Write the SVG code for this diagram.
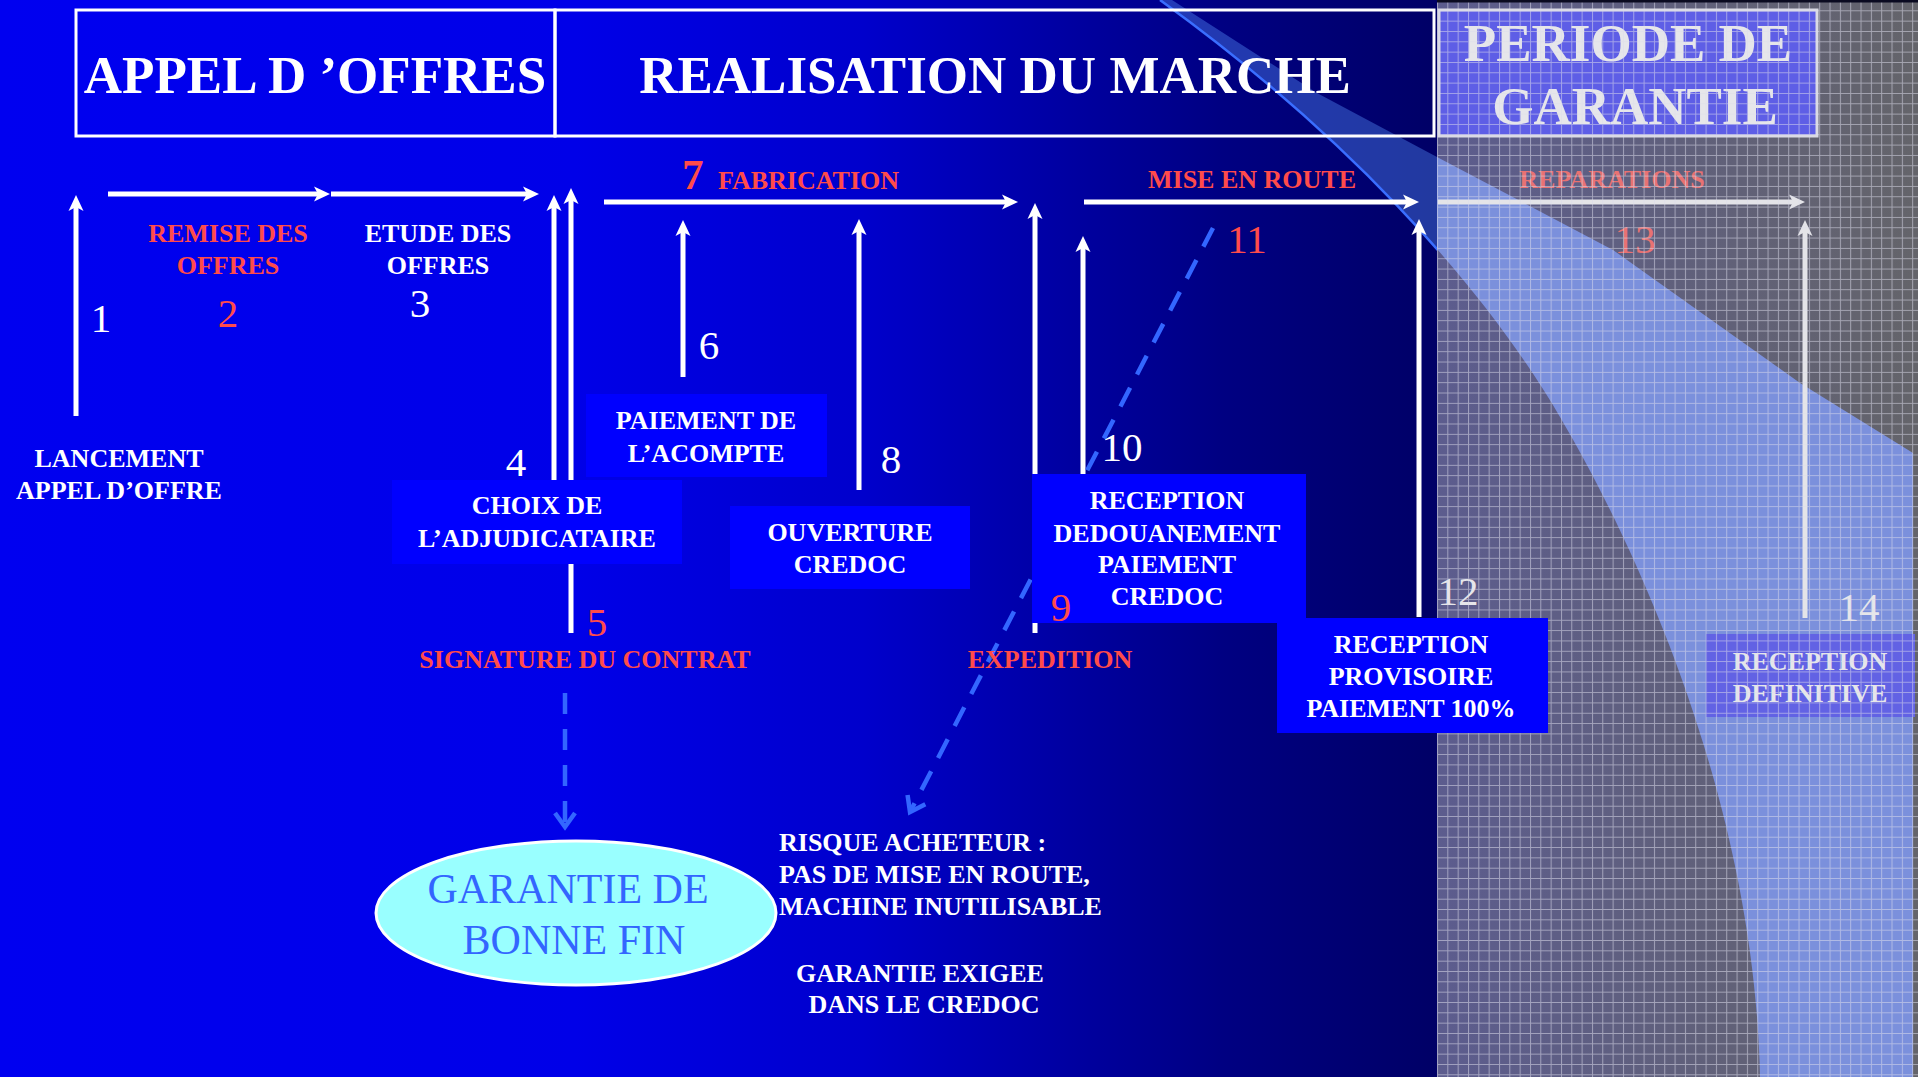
<svg xmlns="http://www.w3.org/2000/svg" width="1918" height="1077" viewBox="0 0 1918 1077">
  <defs>
    <style>
      text { font-family: "Liberation Serif", "Times New Roman", serif; }
      .hd { font-size: 53px; font-weight: bold; fill: #ffffff; text-anchor: middle; }
      .lb { font-size: 26px; font-weight: bold; fill: #ffffff; text-anchor: middle; }
      .lbl { font-size: 26px; font-weight: bold; fill: #ffffff; }
      .num { font-size: 41px; fill: #ffffff; text-anchor: middle; }
      .red { fill: #ff4b4b; }
      .faint { fill: #e6e6ea; }
      .faintred { fill: #e87272; }
      .box { fill: #0000ff; }
      .frame { fill: none; stroke: #ffffff; stroke-width: 3; }
      .arrow { fill: none; stroke: #ffffff; stroke-width: 5; marker-end: url(#head); }
      .arrow-g { fill: none; stroke: #e4e4e8; stroke-width: 5; marker-end: url(#head-g); }
      .dash { fill: none; stroke: #3366ff; stroke-width: 4.5; stroke-dasharray: 21 15; marker-end: url(#chev); }
    </style>
    <linearGradient id="bgGrad" gradientUnits="userSpaceOnUse" x1="0" y1="0" x2="1438" y2="0">
      <stop offset="0" stop-color="#0000f0"/>
      <stop offset="0.4" stop-color="#0000e8"/>
      <stop offset="0.6" stop-color="#0000cc"/>
      <stop offset="0.72" stop-color="#0000a8"/>
      <stop offset="0.85" stop-color="#000082"/>
      <stop offset="1" stop-color="#000066"/>
    </linearGradient>
    <linearGradient id="greyGrad" gradientUnits="userSpaceOnUse" x1="1437" y1="0" x2="1918" y2="0">
      <stop offset="0" stop-color="#5c5c8e"/>
      <stop offset="1" stop-color="#64646a"/>
    </linearGradient>
    <pattern id="grid" patternUnits="userSpaceOnUse" x="1437" y="0" width="10.33" height="10.33">
      <path d="M0 0.5H10.33M0.5 0V10.33" stroke="#dcdcea" stroke-opacity="0.55" stroke-width="1" fill="none"/>
    </pattern>
    <clipPath id="blueSide"><rect x="0" y="0" width="1437" height="1077"/></clipPath>
    <clipPath id="greySide"><rect x="1437" y="0" width="481" height="1077"/></clipPath>
    <marker id="head" markerUnits="userSpaceOnUse" orient="auto" refX="0" refY="0" markerWidth="20" markerHeight="20" overflow="visible">
      <path d="M12 0L-4 -7.5L0 0L-4 7.5Z" fill="#ffffff"/>
    </marker>
    <marker id="head-g" markerUnits="userSpaceOnUse" orient="auto" refX="0" refY="0" markerWidth="20" markerHeight="20" overflow="visible">
      <path d="M12 0L-4 -7.5L0 0L-4 7.5Z" fill="#e4e4e8"/>
    </marker>
    <marker id="chev" markerUnits="userSpaceOnUse" orient="auto" refX="0" refY="0" markerWidth="30" markerHeight="30" overflow="visible">
      <path d="M-14 -10L0 0L-14 10" fill="none" stroke="#3366ff" stroke-width="4.5"/>
    </marker>
  </defs>

  <!-- backdrop: blue gradient, warranty zone and light beam -->
  <g id="backdrop">
    <rect x="0" y="0" width="1918" height="1077" fill="url(#bgGrad)"/>
    <rect x="1437" y="0" width="481" height="1077" fill="url(#greyGrad)"/>
    <path clip-path="url(#blueSide)" fill="#5a96ff" fill-opacity="0.38"
          d="M1160 0L1172 0L1317 93L1437 157L1613 250L1800 383L1913 453L1913 1077L1760 1077C1755 820 1650 570 1560 417C1480 280 1340 130 1160 0Z"/>
    <path clip-path="url(#blueSide)" fill="none" stroke="#3a6eff" stroke-width="2.5"
          d="M1160 0C1340 130 1480 280 1560 417"/>
    <path clip-path="url(#greySide)" fill="#7b90dc"
          d="M1160 0L1172 0L1317 93L1437 157L1613 250L1800 383L1913 453L1913 1077L1760 1077C1755 820 1650 570 1560 417C1480 280 1340 130 1160 0Z"/>
  </g>

  <!-- connectors -->
  <g id="connectors">
    <path class="arrow" d="M76 416V207"/>
    <path class="arrow" d="M108 194H318"/>
    <path class="arrow" d="M331 194H527"/>
    <path class="arrow" d="M554 480V207"/>
    <path class="arrow" d="M571 633V200"/>
    <path class="arrow" d="M604 202H1006"/>
    <path class="arrow" d="M683 377V232"/>
    <path class="arrow" d="M859 490V231"/>
    <path class="arrow" d="M1035 633V215"/>
    <path class="arrow" d="M1083 474V248"/>
    <path class="arrow" d="M1084 202H1407"/>
    <path class="arrow" d="M1419 617V231"/>
    <path class="arrow-g" d="M1438 202H1793"/>
    <path class="arrow-g" d="M1805 618V232"/>
    <path class="dash" d="M565 693V827"/>
    <path class="dash" d="M1213 228L910 812"/>
  </g>

  <!-- phase headers -->
  <g id="phase-appel">
    <rect class="frame" x="76" y="10" width="479" height="126"/>
    <text class="hd" x="315" y="93">APPEL D ’OFFRES</text>
  </g>
  <g id="phase-realisation">
    <rect class="frame" x="555" y="10" width="879" height="126"/>
    <text class="hd" x="995" y="93">REALISATION DU MARCHE</text>
  </g>
  <g id="phase-garantie">
    <rect x="1439" y="10" width="378" height="126" fill="#5e5ee6" stroke="#dadae4" stroke-width="3"/>
    <text class="hd faint" x="1628" y="61">PERIODE DE</text>
    <text class="hd faint" x="1635" y="124">GARANTIE</text>
  </g>

  <!-- steps -->
  <g id="step-1">
    <text class="num" x="101" y="332">1</text>
    <text class="lb" x="119" y="467">LANCEMENT</text>
    <text class="lb" x="119" y="499">APPEL D’OFFRE</text>
  </g>
  <g id="step-2">
    <text class="lb red" x="228" y="242">REMISE DES</text>
    <text class="lb red" x="228" y="274">OFFRES</text>
    <text class="num red" x="228" y="327">2</text>
  </g>
  <g id="step-3">
    <text class="lb" x="438" y="242">ETUDE DES</text>
    <text class="lb" x="438" y="274">OFFRES</text>
    <text class="num" x="420" y="317">3</text>
  </g>
  <g id="step-4">
    <text class="num" x="516" y="476">4</text>
    <rect class="box" x="392" y="480" width="290" height="84"/>
    <text class="lb" x="537" y="514">CHOIX DE</text>
    <text class="lb" x="537" y="547">L’ADJUDICATAIRE</text>
  </g>
  <g id="step-5">
    <text class="num red" x="597" y="636">5</text>
    <text class="lb red" x="585" y="668">SIGNATURE DU CONTRAT</text>
  </g>
  <g id="step-6">
    <text class="num" x="709" y="359">6</text>
    <rect class="box" x="586" y="394" width="241" height="83"/>
    <text class="lb" x="706" y="429">PAIEMENT DE</text>
    <text class="lb" x="706" y="462">L’ACOMPTE</text>
  </g>
  <g id="step-7">
    <text x="682" y="189" font-size="43" font-weight="bold" fill="#ff4b4b">7</text>
    <text class="lbl red" x="718" y="189">FABRICATION</text>
  </g>
  <g id="step-8">
    <text class="num" x="891" y="473">8</text>
    <rect class="box" x="730" y="506" width="240" height="83"/>
    <text class="lb" x="850" y="541">OUVERTURE</text>
    <text class="lb" x="850" y="573">CREDOC</text>
  </g>
  <g id="step-9">
    <text class="lb red" x="1050" y="668">EXPEDITION</text>
  </g>
  <g id="step-10">
    <text class="num" x="1122" y="461">10</text>
    <rect class="box" x="1032" y="474" width="274" height="149"/>
    <text class="lb" x="1167" y="509">RECEPTION</text>
    <text class="lb" x="1167" y="542">DEDOUANEMENT</text>
    <text class="lb" x="1167" y="573">PAIEMENT</text>
    <text class="lb" x="1167" y="605">CREDOC</text>
    <text class="num red" x="1061" y="621">9</text>
  </g>
  <g id="step-11">
    <text class="lb red" x="1252" y="188">MISE EN ROUTE</text>
    <text class="num red" x="1247" y="253">11</text>
  </g>
  <g id="step-12-label">
    <text class="num faint" x="1458" y="605">12</text>
  </g>
  <g id="step-13">
    <text class="lb faintred" x="1612" y="188">REPARATIONS</text>
    <text class="num faintred" x="1635" y="253">13</text>
  </g>
  <g id="step-14">
    <text class="num faint" x="1859" y="621">14</text>
    <rect x="1706" y="634" width="209" height="83" fill="#6262e4"/>
    <text class="lb faint" x="1810" y="670">RECEPTION</text>
    <text class="lb faint" x="1810" y="702">DEFINITIVE</text>
  </g>
  <g id="guarantee">
    <ellipse cx="576" cy="913" rx="200" ry="72" fill="#99ffff" stroke="#ffffff" stroke-width="3"/>
    <text x="568" y="903" font-size="42" fill="#3366ff" text-anchor="middle">GARANTIE DE</text>
    <text x="574" y="954" font-size="42" fill="#3366ff" text-anchor="middle">BONNE FIN</text>
  </g>
  <g id="buyer-risk">
    <text class="lbl" x="779" y="851">RISQUE ACHETEUR :</text>
    <text class="lbl" x="779" y="883">PAS DE MISE EN ROUTE,</text>
    <text class="lbl" x="779" y="915">MACHINE INUTILISABLE</text>
    <text class="lb" x="920" y="982">GARANTIE EXIGEE</text>
    <text class="lb" x="924" y="1013">DANS LE CREDOC</text>
  </g>

  <!-- grid screen over the warranty zone -->
  <g id="warranty-screen">
    <rect x="1437" y="0" width="481" height="1077" fill="url(#grid)"/>
    <rect x="1437" y="0" width="481" height="2.5" fill="#0a0a20"/>
  </g>

  <g id="step-12">
    <rect class="box" x="1277" y="618" width="271" height="115"/>
    <text class="lb" x="1411" y="653">RECEPTION</text>
    <text class="lb" x="1411" y="685">PROVISOIRE</text>
    <text class="lb" x="1411" y="717">PAIEMENT 100%</text>
  </g>
</svg>
